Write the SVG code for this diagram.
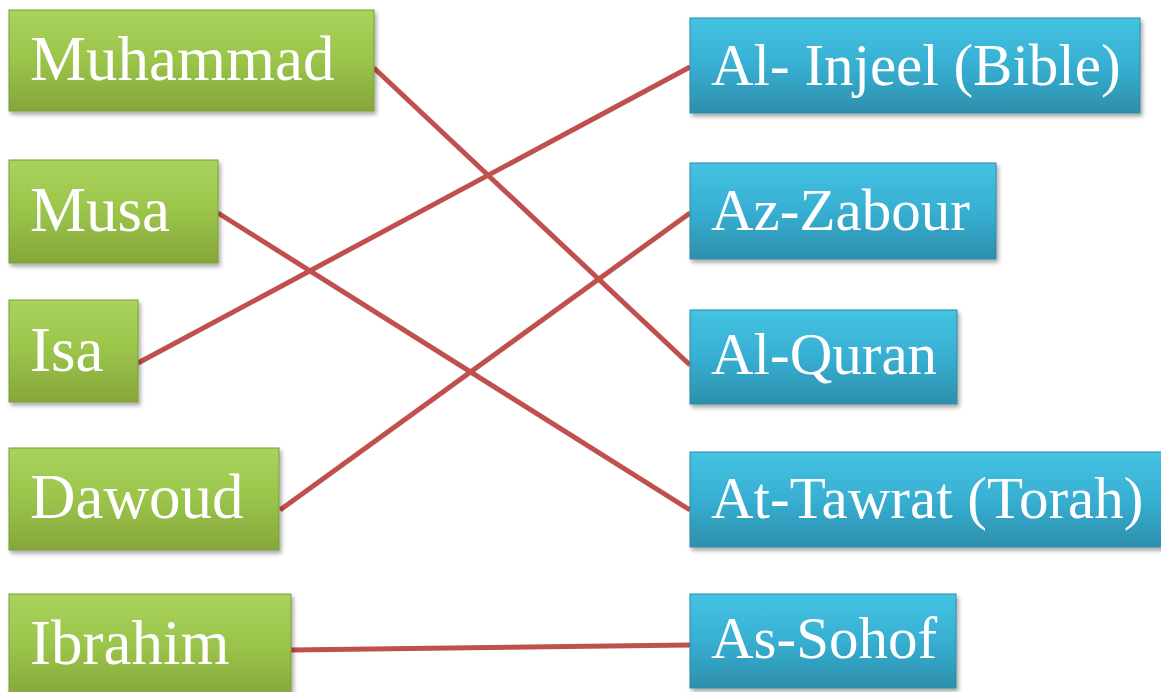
<svg xmlns="http://www.w3.org/2000/svg" width="1161" height="692" viewBox="0 0 1161 692">
<defs>
<linearGradient id="g" x1="0" y1="0" x2="0" y2="1"><stop offset="0" stop-color="#aad35c"/><stop offset="0.5" stop-color="#9ac44a"/><stop offset="1" stop-color="#86a63c"/></linearGradient>
<linearGradient id="b" x1="0" y1="0" x2="0" y2="1"><stop offset="0" stop-color="#45c3e3"/><stop offset="0.5" stop-color="#37afd2"/><stop offset="1" stop-color="#2d8fab"/></linearGradient>
<filter id="sh" x="-10%" y="-10%" width="120%" height="130%"><feDropShadow dx="2" dy="3" stdDeviation="2" flood-color="#000" flood-opacity="0.35"/></filter>
</defs>
<style>
.gn{fill:url(#g);stroke:#7d9c3a;stroke-width:1;filter:url(#sh)}
.bl{fill:url(#b);stroke:#2a8aa6;stroke-width:1;filter:url(#sh)}
.t{font-family:"Liberation Serif","Times New Roman",serif;font-size:63px;fill:#fff}
.r{font-size:59px}
.c{stroke:#c0504d;stroke-width:5;fill:none}
</style>
<g id="connectors">
<line class="c" x1="374" y1="68" x2="690" y2="365"/>
<line class="c" x1="218" y1="213" x2="690" y2="510"/>
<line class="c" x1="138" y1="363" x2="690" y2="67"/>
<line class="c" x1="280" y1="510" x2="690" y2="213"/>
<line class="c" x1="291" y1="650" x2="690" y2="645"/>
</g>
<g id="muhammad"><rect class="gn" x="9" y="10" width="365" height="101"/><text class="t" x="30" y="80">Muhammad</text></g>
<g id="musa"><rect class="gn" x="9" y="160" width="209" height="103"/><text class="t" x="30" y="231">Musa</text></g>
<g id="isa"><rect class="gn" x="9" y="300" width="129" height="102"/><text class="t" x="30" y="371">Isa</text></g>
<g id="dawoud"><rect class="gn" x="9" y="448" width="270" height="102"/><text class="t" x="30" y="518">Dawoud</text></g>
<g id="ibrahim"><rect class="gn" x="9" y="594" width="282" height="104"/><text class="t" x="30" y="664">Ibrahim</text></g>
<g id="injeel"><rect class="bl" x="690" y="18" width="450" height="95"/><text class="t r" x="711" y="85">Al- Injeel (Bible)</text></g>
<g id="zabour"><rect class="bl" x="690" y="163" width="306" height="96"/><text class="t r" x="711" y="230">Az-Zabour</text></g>
<g id="quran"><rect class="bl" x="690" y="310" width="267" height="94"/><text class="t r" x="711" y="374">Al-Quran</text></g>
<g id="tawrat"><rect class="bl" x="690" y="452" width="480" height="95"/><text class="t r" x="711" y="518">At-Tawrat (Torah)</text></g>
<g id="sohof"><rect class="bl" x="690" y="594" width="266" height="94"/><text class="t r" x="711" y="658">As-Sohof</text></g>
</svg>
